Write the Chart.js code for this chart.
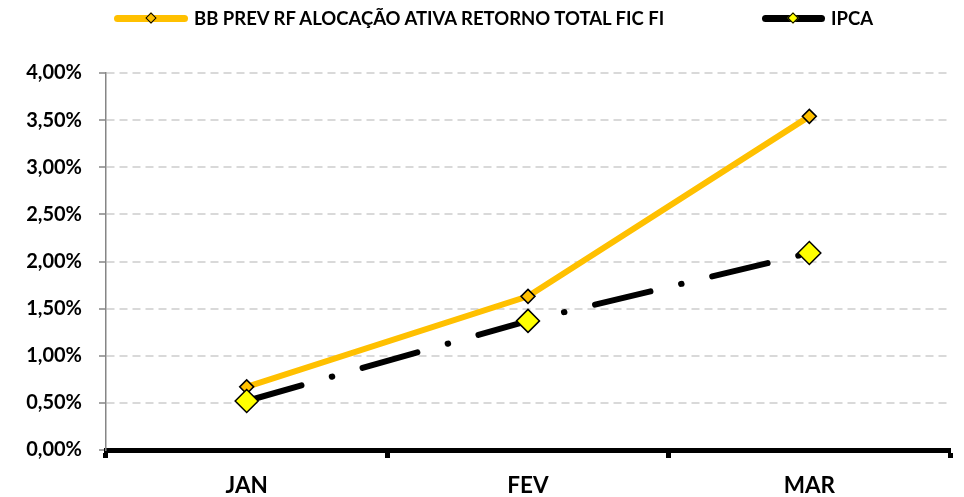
<!DOCTYPE html>
<html>
<head>
<meta charset="utf-8">
<script src="https://cdn.jsdelivr.net/npm/chart.js@4/dist/chart.umd.min.js"></script>
<style>
  html, body { margin: 0; padding: 0; background: #fff; }
  .wrap { position: relative; width: 964px; height: 497px; }
  .legend { position: absolute; top: 0; left: 0; width: 964px; height: 34px; font: bold 18.5px Lato, sans-serif; color: #000; }
  .item { position: absolute; top: 6px; height: 24px; display: flex; align-items: center; white-space: nowrap; }
  .swatch { position: relative; height: 7px; border-radius: 3.5px; margin-right: 6px; }
  .swatch i { position: absolute; left: 50%; top: 50%; width: 6px; height: 6px; margin: -4.5px 0 0 -4.5px; border: 1.5px solid #000; transform: rotate(45deg); }
</style>
</head>
<body>
<div class="wrap">
  <canvas id="chart" width="964" height="497"></canvas>
  <div class="legend">
    <div class="item" style="left:114px"><span class="swatch" style="width:74px;background:#FFC000"><i style="background:#FFC000"></i></span><span id="lg0"></span></div>
    <div class="item" style="left:762px"><span class="swatch" style="width:63px;background:#000"><i style="background:#FFFF00"></i></span><span id="lg1"></span></div>
  </div>
</div>
<script>
const categories = ["JAN", "FEV", "MAR"];
const fundLabel = "BB PREV RF ALOCAÇÃO ATIVA RETORNO TOTAL FIC FI";
const fundValues = [0.67, 1.63, 3.54];
const ipcaLabel = "IPCA";
const ipcaValues = [0.52, 1.37, 2.09];
const yTicks = [0, 0.5, 1, 1.5, 2, 2.5, 3, 3.5, 4];

document.getElementById("lg0").textContent = fundLabel;
document.getElementById("lg1").textContent = ipcaLabel;

const ctx = document.getElementById("chart").getContext("2d");
new Chart(ctx, {
    type: "line",
    data: {
        labels: categories,
        datasets: [
            {
                label: fundLabel,
                data: fundValues,
                borderColor: "#FFC000",
                borderWidth: 6,
                tension: 0,
                pointStyle: "rectRot",
                pointRadius: 7,
                pointBackgroundColor: "#FFC000",
                pointBorderColor: "#000",
                pointBorderWidth: 1.5,
                order: 2,
            },
            {
                label: ipcaLabel,
                data: ipcaValues,
                borderColor: "#000",
                borderWidth: 6,
                borderCapStyle: "round",
                borderDash: [57, 31.5, 0.5, 31.5],
                tension: 0,
                pointStyle: "rectRot",
                pointRadius: 11.5,
                pointBackgroundColor: "#FFFF00",
                pointBorderColor: "#000",
                pointBorderWidth: 1.5,
                order: 1,
            },
        ],
    },
    options: {
        responsive: false,
        animation: false,
        layout: { padding: { left: 0, right: 14, top: 0, bottom: 0 } },
        plugins: {
            legend: { display: false },
            tooltip: { enabled: false },
        },
        scales: {
            x: {
                offset: true,
                afterFit: (scale) => { scale.height = 47; },
                border: { color: "#000", width: 5 },
                grid: {
                    offset: true,
                    drawOnChartArea: false,
                    tickLength: 8,
                    tickColor: "#000",
                    tickWidth: 5,
                },
                ticks: {
                    color: "#000",
                    padding: 14,
                    font: { family: "Lato", size: 22.5, weight: "bold" },
                },
            },
            y: {
                min: 0,
                max: 4,
                afterFit: (scale) => { scale.width = 106; scale.paddingTop = 73; },
                afterBuildTicks: (scale) => { scale.ticks = yTicks.map((v) => ({ value: v })); },
                border: { color: "#868686", width: 1.5, dash: [8, 5] },
                grid: {
                    color: "#D9D9D9",
                    lineWidth: 2,
                    tickColor: "#868686",
                    tickLength: 7,
                    tickBorderDash: [],
                    tickWidth: 1.5,
                },
                ticks: {
                    color: "#000",
                    padding: 17,
                    font: { family: "Lato", size: 20, weight: "bold" },
                    callback: (v) => v.toFixed(2).replace(".", ",") + "%",
                },
            },
        },
    },
});
</script>
</body>
</html>
